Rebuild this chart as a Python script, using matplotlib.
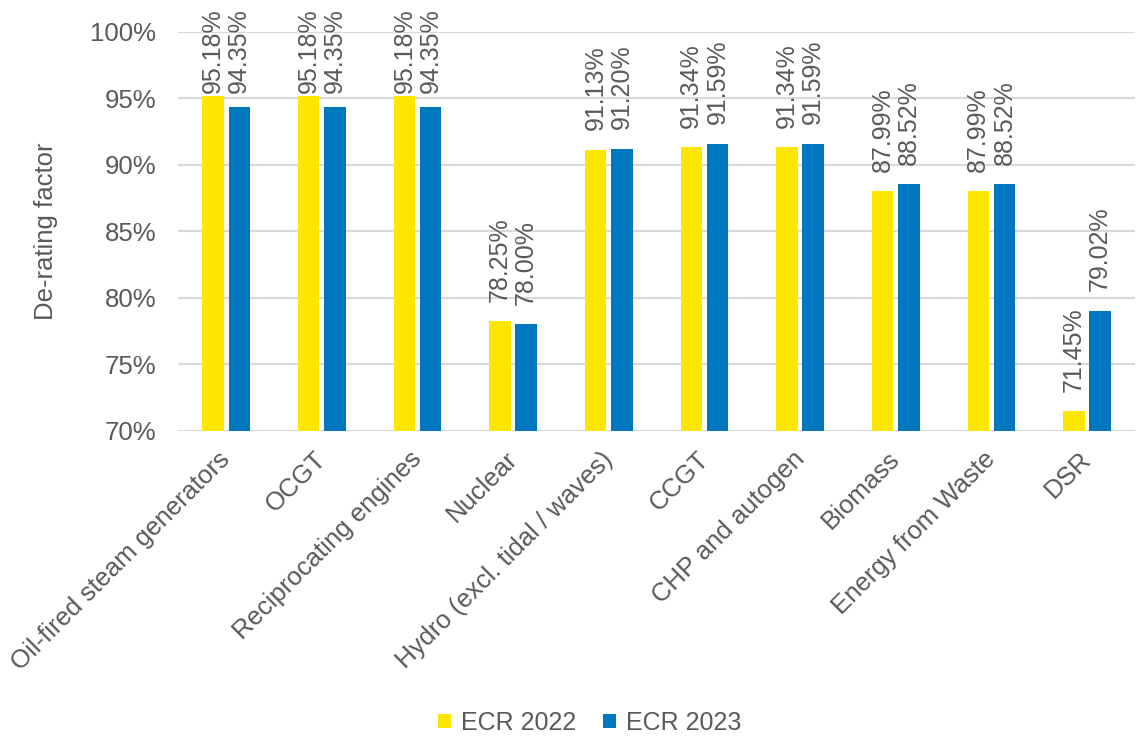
import numpy as np
import matplotlib.pyplot as plt
import matplotlib.transforms as mtransforms
from matplotlib.ticker import PercentFormatter

plt.rcParams['font.family'] = ['Liberation Sans', 'DejaVu Sans']

categories = ['Oil-fired steam generators', 'OCGT', 'Reciprocating engines', 'Nuclear',
              'Hydro (excl. tidal / waves)', 'CCGT', 'CHP and autogen', 'Biomass',
              'Energy from Waste', 'DSR']
ecr_2022 = [95.18, 95.18, 95.18, 78.25, 91.13, 91.34, 91.34, 87.99, 87.99, 71.45]
ecr_2023 = [94.35, 94.35, 94.35, 78.00, 91.20, 91.59, 91.59, 88.52, 88.52, 79.02]
series_names = ['ECR 2022', 'ECR 2023']

yellow = '#FFE600'
blue = '#0077BE'
grey = '#595959'

fig = plt.figure(figsize=(11.36, 7.4), dpi=100)
ax = fig.add_axes([0.157, 0.418, 0.842, 0.539])

x = np.arange(len(categories))
w = 0.225
off = 0.137
b1 = ax.bar(x - off, ecr_2022, w, color=yellow, label=series_names[0], zorder=3)
b2 = ax.bar(x + off, ecr_2023, w, color=blue, label=series_names[1], zorder=3)

labels = []
for bars in (b1, b2):
    for r in bars:
        h = r.get_height()
        t = ax.annotate(f'{h:.2f}%', (r.get_x() + r.get_width() / 2, h),
                        xytext=(0, 14), textcoords='offset points', rotation=90,
                        ha='center', va='bottom', fontsize=18, color=grey,
                        zorder=4, annotation_clip=False)
        labels.append(t)

ax.set_ylim(70, 100)
ax.set_xlim(-0.5, len(categories) - 0.5)
ax.set_yticks(np.arange(70, 101, 5))
ax.yaxis.set_major_formatter(PercentFormatter(decimals=0))
ax.grid(axis='y', color='#D9D9D9', linewidth=1.5, zorder=0)
for s in ax.spines.values():
    s.set_visible(False)
ax.tick_params(axis='both', length=0, labelsize=18.5, labelcolor=grey)
ax.tick_params(axis='y', pad=16)
ax.set_xticks(x)
ax.set_xticklabels(categories, rotation=45, ha='right', rotation_mode='anchor')
ax.tick_params(axis='x', pad=6)
shift = mtransforms.ScaledTranslation(-5.8 / 72, -5.8 / 72, fig.dpi_scale_trans)
for lbl in ax.get_xticklabels():
    lbl.set_transform(lbl.get_transform() + shift)
ax.set_ylabel('De-rating factor', fontsize=18.5, color=grey, labelpad=23)

ax.legend(loc='center', bbox_to_anchor=(0.43, -0.732), ncol=2, frameon=False,
          fontsize=18, labelcolor=grey, handlelength=0.5, handleheight=0.5,
          handletextpad=0.4, columnspacing=1.1)

# keep labels inside the figure, like the original chart does
fig.canvas.draw()
H = fig.bbox.height
for t in labels:
    bb = t.get_window_extent()
    excess = bb.y1 - (H - 8)
    if excess > 0:
        dx, dy = t.xyann
        t.xyann = (dx, dy - excess * 72 / fig.dpi)

fig.savefig('out.png', dpi=100)
